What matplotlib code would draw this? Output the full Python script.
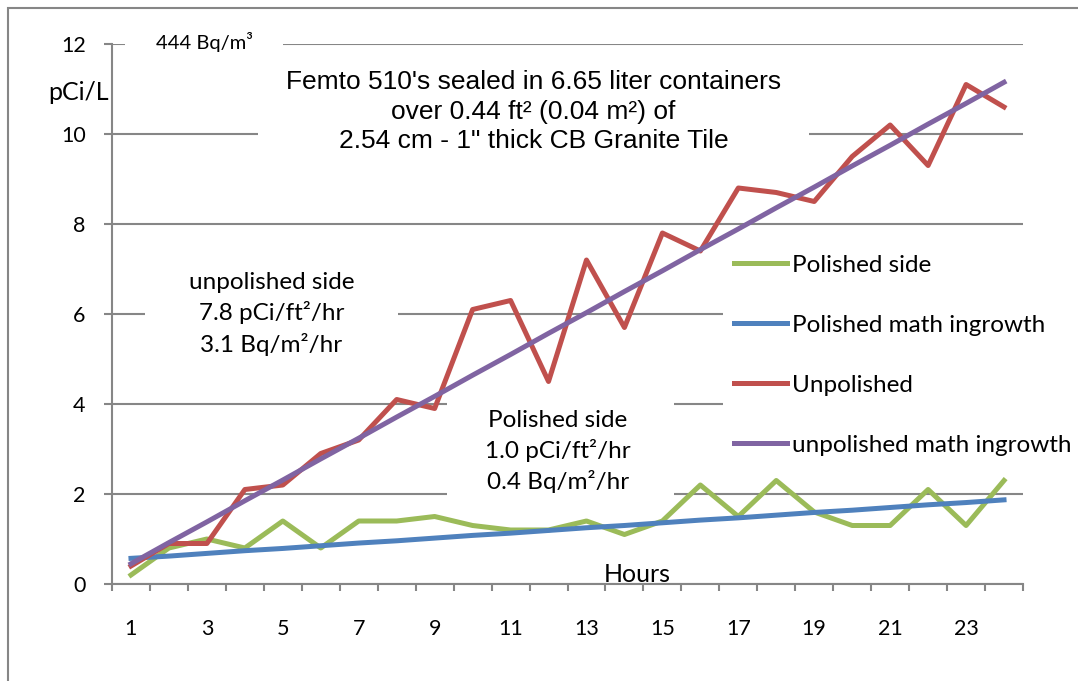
import matplotlib.pyplot as plt
from matplotlib.patches import Rectangle

# Datos
horas = list(range(1, 25))
pulido = [0.2, 0.8, 1.0, 0.8, 1.4, 0.8, 1.4, 1.4, 1.5, 1.3, 1.2, 1.2,
          1.4, 1.1, 1.4, 2.2, 1.5, 2.3, 1.6, 1.3, 1.3, 2.1, 1.3, 2.3]
pulido_mat = [0.57, 0.62, 0.68, 0.74, 0.79, 0.85, 0.91, 0.96, 1.02, 1.08, 1.13, 1.19,
              1.25, 1.30, 1.36, 1.42, 1.47, 1.53, 1.59, 1.64, 1.70, 1.76, 1.81, 1.87]
sin_pulir = [0.4, 0.9, 0.9, 2.1, 2.2, 2.9, 3.2, 4.1, 3.9, 6.1, 6.3, 4.5,
             7.2, 5.7, 7.8, 7.4, 8.8, 8.7, 8.5, 9.5, 10.2, 9.3, 11.1, 10.6]
sin_pulir_mat = [0.45, 0.92, 1.38, 1.85, 2.31, 2.78, 3.24, 3.71, 4.17, 4.64, 5.10, 5.57,
                 6.03, 6.50, 6.96, 7.43, 7.89, 8.36, 8.82, 9.29, 9.75, 10.22, 10.68, 11.15]
etiquetas_x = [str(h) for h in range(1, 24, 2)]

gris = '#868686'
calibri = 'Lato'

fig = plt.figure(figsize=(10.78, 6.81), dpi=100)
ax = fig.add_axes([112 / 1078, 1 - 584 / 681, 911 / 1078, 540 / 681])

ax.plot(horas, pulido, color='#9BBB59', lw=3.6, label='Polished side', zorder=3)
ax.plot(horas, pulido_mat, color='#4F81BD', lw=3.6, label='Polished math ingrowth', zorder=3)
ax.plot(horas, sin_pulir, color='#C0504D', lw=3.6, label='Unpolished', zorder=3)
ax.plot(horas, sin_pulir_mat, color='#8064A2', lw=3.6, label='unpolished math ingrowth', zorder=3)

ax.set_xlim(0.5, 24.5)
ax.set_ylim(0, 12)
ax.set_yticks(range(0, 13, 2))
ax.set_xticks(range(1, 24, 2))
ax.set_xticklabels(etiquetas_x)
ax.set_xticks([h - 0.5 for h in range(1, 26)], minor=True)

for lado in ['top', 'right']:
    ax.spines[lado].set_visible(False)
for lado in ['left', 'bottom']:
    ax.spines[lado].set_color(gris)
    ax.spines[lado].set_linewidth(1.5)

ax.yaxis.grid(True, color=gris, lw=1.5, zorder=0.5)
ax.set_axisbelow(True)
ax.tick_params(axis='y', length=6, width=1.5, color=gris, pad=13, labelsize=15.5)
ax.tick_params(axis='x', which='major', length=0, pad=25, labelsize=15.5)
ax.tick_params(axis='x', which='minor', length=5, width=1.5, color=gris)
for t in ax.get_xticklabels() + ax.get_yticklabels():
    t.set_fontfamily(calibri)

# Cajas blancas que tapan la grilla detras de los textos
cajas = [(0.84, 11.6, 4.16, 0.8), (4.35, 9.53, 14.5, 2.1),
         (1.37, 4.87, 6.66, 2.44), (9.33, 1.76, 5.97, 2.44)]
for x0, y0, w, h in cajas:
    ax.add_patch(Rectangle((x0, y0), w, h, facecolor='white', edgecolor='none',
                           zorder=1, clip_on=False))

ax.text(2.93, 12.05, '444 Bq/m³', fontsize=14.5, family=calibri,
        ha='center', va='center', zorder=2)
ax.text(11.6, 10.5, "Femto 510's sealed in 6.65 liter containers\nover 0.44 ft² (0.04 m²) of\n"
        '2.54 cm - 1" thick CB Granite Tile', fontsize=19, family='Liberation Sans',
        ha='center', va='center', linespacing=1.3, zorder=2)
ax.text(4.7, 6.0, 'unpolished side\n7.8 pCi/ft²/hr\n3.1 Bq/m²/hr', fontsize=17.5,
        family=calibri, ha='center', va='center', linespacing=1.43, zorder=2)
ax.text(12.25, 2.95, 'Polished side\n1.0 pCi/ft²/hr\n0.4 Bq/m²/hr', fontsize=17.5,
        family=calibri, ha='center', va='center', linespacing=1.43, zorder=2)
ax.text(14.33, 0.22, 'Hours', fontsize=18, family=calibri, ha='center', va='center', zorder=2)
fig.text(79 / 1078, 1 - 92 / 681, 'pCi/L', fontsize=18, family=calibri,
         ha='center', va='center')

leg = ax.legend(loc='upper left', bbox_to_anchor=(723 / 1078, 1 - 244 / 681),
                bbox_transform=fig.transFigure, borderaxespad=0, frameon=True,
                prop={'family': calibri, 'size': 17.5}, handlelength=2.2,
                handletextpad=0.2, labelspacing=1.6, borderpad=0.45)
leg.get_frame().set_facecolor('white')
leg.get_frame().set_edgecolor('none')
leg.get_frame().set_alpha(1)
leg.set_zorder(1.2)

# Borde del grafico
fig.add_artist(Rectangle((8 / 1078, -0.1), 1.1, 1.1 - 8 / 681, transform=fig.transFigure,
                         fill=False, edgecolor=gris, lw=1.5))

fig.savefig('out.png', dpi=100)
